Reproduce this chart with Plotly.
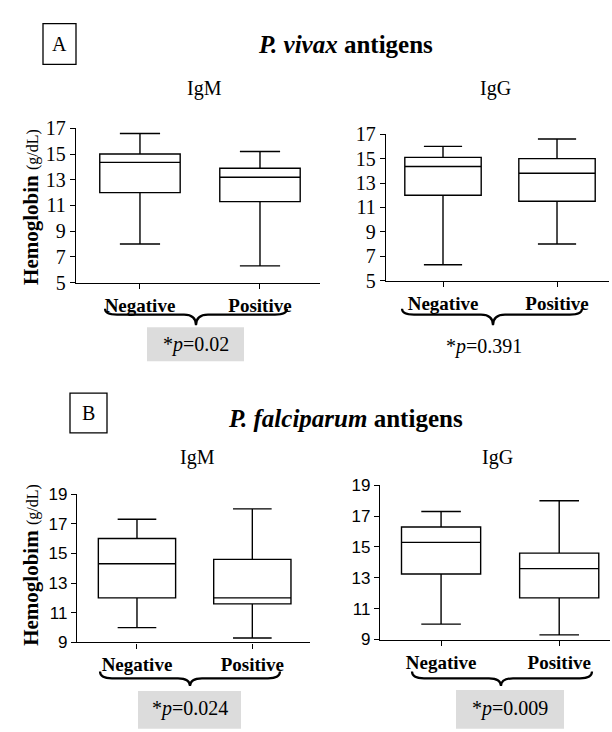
import plotly.graph_objects as go

W, H = 612, 732

categories = ["Negative", "Positive"]

# P. vivax IgM
vivax_igm_lower = [8.0, 6.3]
vivax_igm_q1 = [12.0, 11.3]
vivax_igm_median = [14.35, 13.2]
vivax_igm_q3 = [15.0, 13.9]
vivax_igm_upper = [16.6, 15.2]

# P. vivax IgG
vivax_igg_lower = [6.3, 8.0]
vivax_igg_q1 = [12.0, 11.5]
vivax_igg_median = [14.35, 13.8]
vivax_igg_q3 = [15.1, 15.0]
vivax_igg_upper = [16.0, 16.6]

# P. falciparum IgM
falc_igm_lower = [10.0, 9.3]
falc_igm_q1 = [12.0, 11.6]
falc_igm_median = [14.3, 12.0]
falc_igm_q3 = [16.0, 14.6]
falc_igm_upper = [17.3, 18.0]

# P. falciparum IgG
falc_igg_lower = [10.0, 9.3]
falc_igg_q1 = [13.25, 11.7]
falc_igg_median = [15.3, 13.6]
falc_igg_q3 = [16.3, 14.6]
falc_igg_upper = [17.3, 18.0]

vivax_ticks = [5, 7, 9, 11, 13, 15, 17]
falc_ticks = [9, 11, 13, 15, 17, 19]
p_values = ["*<i>p</i>=0.02", "*<i>p</i>=0.391", "*<i>p</i>=0.024", "*<i>p</i>=0.009"]

SERIF = "'Liberation Serif', 'Times New Roman', serif"
SANS = "'Liberation Sans', Arial, sans-serif"


def px(x):
    return x / W


def py(y):
    return 1 - y / H


fig = go.Figure()

panels = [
    (vivax_igm_lower, vivax_igm_q1, vivax_igm_median, vivax_igm_q3, vivax_igm_upper),
    (vivax_igg_lower, vivax_igg_q1, vivax_igg_median, vivax_igg_q3, vivax_igg_upper),
    (falc_igm_lower, falc_igm_q1, falc_igm_median, falc_igm_q3, falc_igm_upper),
    (falc_igg_lower, falc_igg_q1, falc_igg_median, falc_igg_q3, falc_igg_upper),
]

for i, (lo, q1, med, q3, up) in enumerate(panels):
    ax = "" if i == 0 else str(i + 1)
    fig.add_trace(go.Box(
        x=categories, q1=q1, median=med, q3=q3, lowerfence=lo, upperfence=up,
        xaxis="x" + ax, yaxis="y" + ax,
        fillcolor="white", line=dict(color="black", width=1.4),
        whiskerwidth=0.5, width=0.67, boxpoints=False, showlegend=False,
        hoverinfo="skip",
    ))

# x0, x1, ybottom, ytop (pixels), x range, y range, ticks, tick font
geo = [
    (76, 320, 280, 121, [-0.533, 1.5], [5, 17], vivax_ticks, SERIF, 20),
    (386, 609, 278, 127, [-0.5, 1.456], [5, 17], vivax_ticks, SERIF, 20),
    (77, 310, 651, 498, [-0.52, 1.5], [9, 19], falc_ticks, SANS, 17),
    (380, 610, 648, 489, [-0.517, 1.43], [9, 19], falc_ticks, SANS, 17),
]

layout = dict(
    width=W, height=H,
    margin=dict(l=0, r=0, t=0, b=0, pad=0),
    paper_bgcolor="white", plot_bgcolor="white",
    showlegend=False,
)
for i, (x0, x1, yb, yt, xr, yr, tv, yfam, ysize) in enumerate(geo):
    ax = "" if i == 0 else str(i + 1)
    layout["xaxis" + ax] = dict(
        domain=[px(x0), px(x1)], range=xr, anchor="y" + ax,
        showline=True, linecolor="black", linewidth=1.4,
        ticks="outside", ticklen=5, tickcolor="black", tickwidth=1.2,
        showgrid=False, zeroline=False,
        tickvals=categories, ticktext=["<b>" + c + "</b>" for c in categories],
        tickfont=dict(family=SERIF, size=19, color="black"),
        type="category", fixedrange=True,
    )
    layout["yaxis" + ax] = dict(
        domain=[py(yb), py(yt)], range=yr, anchor="x" + ax,
        tickvals=tv, showline=True, linecolor="black", linewidth=1.4,
        ticks="outside", ticklen=5, tickcolor="black", tickwidth=1.2,
        showgrid=False, zeroline=False,
        tickfont=dict(family=yfam, size=ysize, color="black"),
        fixedrange=True,
    )
fig.update_layout(**layout)

ann = []


def text(x, y, t, size, family=SERIF, angle=0, color="black"):
    ann.append(dict(x=px(x), y=py(y), xref="paper", yref="paper", text=t,
                    showarrow=False, xanchor="center", yanchor="middle",
                    textangle=angle, font=dict(family=family, size=size, color=color)))


text(59.5, 34, "A", 20)
text(88.5, 414.5, "B", 20)
text(345, 35, "<b><i>P. vivax</i> antigens</b>", 25)
text(345, 420, "<b><i>P. falciparum</i> antigens</b>", 25)
text(205, 80, "IgM", 20)
text(495, 80, "IgG", 20)
text(197, 460, "IgM", 20)
text(497, 460, "IgG", 20)
text(31, 202, "<b>Hemoglobin</b> <span style='font-size:16px'>(g/dL)</span>", 21, angle=-90)
text(31, 571, "<b>Hemoglobim</b> <span style='font-size:16px'>(g/dL)</span>", 21, angle=-90)

text(196, 344, p_values[0], 20)
text(484, 346, p_values[1], 20)
text(190, 719, p_values[2], 20)
text(510, 719, p_values[3], 20)

shapes = []


def rect(x0, y0, x1, y1, fill=None, line=True):
    shapes.append(dict(type="rect", xref="paper", yref="paper",
                       x0=px(x0), x1=px(x1), y0=py(y1), y1=py(y0),
                       fillcolor=fill if fill else "rgba(0,0,0,0)",
                       line=dict(color="black", width=1.3) if line else dict(width=0),
                       layer="below"))


def brace(x1, x2, xc, yt, ym, ytip):
    r = 12
    pts = [
        f"M {px(x1)},{py(yt)}",
        f"Q {px(x1)},{py(ym)} {px(x1 + r)},{py(ym)}",
        f"L {px(xc - r)},{py(ym)}",
        f"Q {px(xc)},{py(ym)} {px(xc)},{py(ytip)}",
        f"Q {px(xc)},{py(ym)} {px(xc + r)},{py(ym)}",
        f"L {px(x2 - r)},{py(ym)}",
        f"Q {px(x2)},{py(ym)} {px(x2)},{py(yt)}",
    ]
    shapes.append(dict(type="path", xref="paper", yref="paper", path=" ".join(pts),
                       line=dict(color="black", width=2.2)))


rect(43, 13, 76, 55)
rect(70, 394, 107, 435)
rect(147, 326, 244, 361, fill="#dcdcdc", line=False)
rect(138, 701, 241, 740, fill="#dcdcdc", line=False)
rect(456, 700, 564, 740, fill="#dcdcdc", line=False)

brace(105, 287, 196, 307, 313, 324)
brace(402, 582, 493, 307, 313, 324)
brace(100, 280, 190, 681, 688, 696)
brace(412, 592, 501, 681, 688, 696)

fig.update_layout(annotations=ann, shapes=shapes)

fig.write_html(
    "out.html",
    config={"displayModeBar": False},
    post_script="document.body.style.margin='0';document.body.style.overflow='hidden';",
)
